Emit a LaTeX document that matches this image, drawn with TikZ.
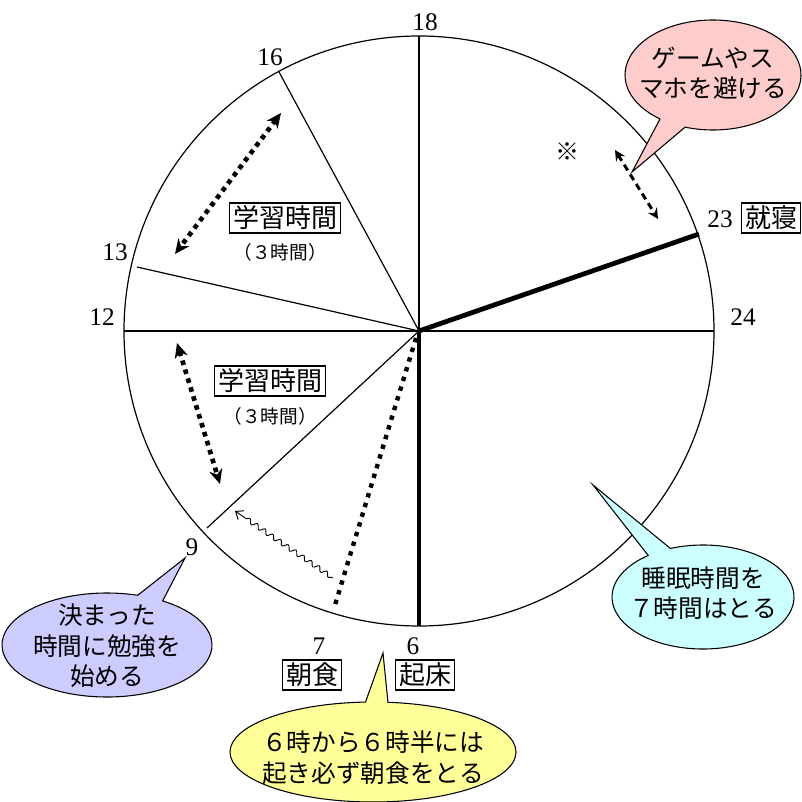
\documentclass[tikz,border=0pt]{standalone}
\usepackage{fontspec}
\setmainfont{Liberation Serif}
\newfontfamily\jp{Noto Sans CJK JP}
\usetikzlibrary{arrows.meta,decorations.pathmorphing,calc}
\definecolor{pinkc}{HTML}{FFCCCC}
\definecolor{lavc}{HTML}{CCCCFF}
\definecolor{cyanc}{HTML}{CCFFFF}
\definecolor{yelc}{HTML}{FFFF99}
\begin{document}
\begin{tikzpicture}[x=0.75pt,y=-0.75pt,
  num/.style={font=\fontsize{19}{19}\selectfont, inner sep=0pt},
  lbl/.style={draw, line width=0.9pt, font=\jp\fontsize{19.5}{20}\selectfont, inner xsep=2.5pt, inner ysep=2.2pt},
  sub/.style={font=\jp\fontsize{14}{15}\selectfont, inner sep=0pt},
  callout/.style={draw, line width=0.8pt},
  say/.style={font=\jp\fontsize{18.5}{23}\selectfont, align=center, inner sep=0pt},
  thin/.style={line width=0.9pt},
  thick5/.style={line width=3.6pt},
  dotarrow/.style={line width=3.5pt, dash pattern=on 3.5pt off 3.5pt, {Stealth[length=11pt,width=10pt]}-{Stealth[length=11pt,width=10pt]}},
  dasharrow/.style={line width=2.2pt, dash pattern=on 5pt off 3.5pt, {Stealth[length=8pt,width=8pt,inset=3pt]}-{Stealth[length=8pt,width=8pt,inset=3pt]}}
]
\useasboundingbox (0,0) rectangle (801,802);

% clock
\coordinate (C) at (419,331);
\draw[thin] (C) circle (295);
\coordinate (h18) at (419,36);
\coordinate (h24) at (714,331);
\coordinate (h12) at (124,331);
\coordinate (h16) at (279,72);
\coordinate (h13) at (137,267);
\coordinate (h9) at (207,528);
\coordinate (h23) at (699,234);
\coordinate (h6) at (419,626);
\coordinate (d0) at (416,338);
\coordinate (h7) at (335,605);

\draw[thin] (C) -- (h18);
\draw[thin] (h12) -- (h24);
\draw[thin] (C) -- (h16);
\draw[thin] (C) -- (h13);
\draw[thin] (C) -- (h9);
\draw[thick5] (C) -- (h23);
\draw[thick5] (C) -- (h6);
\draw[line width=3.3pt, dash pattern=on 3.3pt off 4.3pt] (d0) -- (h7);

% hour labels
\node[num] (n18) at (425,22) {18};
\node[num] (n16) at (270,57) {16};
\node[num] (n13) at (115,252) {13};
\node[num] (n12) at (102,317) {12};
\node[num] (n24) at (743,317) {24};
\node[num] (n23) at (720,219) {23};
\node[num] (n9) at (192,547) {9};
\node[num] (n7) at (319,646) {7};
\node[num] (n6) at (413,646) {6};

\node[lbl] (shushin) at (771,218) {就寝};
\node[lbl] (chou) at (312,675) {朝食};
\node[lbl] (kisho) at (425,675) {起床};

\node[lbl] (study1) at (285,218) {学習時間};
\node[sub] (sub1) at (280,252) {（３時間）};
\node[lbl] (study2) at (270,381) {学習時間};
\node[sub] (sub2) at (270,416) {（３時間）};

\node[font=\jp\fontsize{18}{18}\selectfont, inner sep=0pt] (kome) at (567,152) {※};

% arrows
\coordinate (a1s) at (281,113);
\coordinate (a1e) at (175,254);
\draw[dotarrow] (a1s) -- (a1e);
\coordinate (a2s) at (177,343);
\coordinate (a2e) at (220,484);
\draw[dotarrow] (a2s) -- (a2e);
\coordinate (a3s) at (615,150);
\coordinate (a3e) at (658,219);
\draw[dasharrow] (a3s) -- (a3e);
\coordinate (ws) at (333,578);
\coordinate (we) at (235,511);
\draw[line width=0.7pt, -{Straight Barb[length=5pt,width=8pt]}, decorate, decoration={snake, amplitude=1.7pt, segment length=7pt, post length=7pt, pre length=1pt}] (ws) -- (we);

% callouts
\coordinate (pc) at (713,75);
\coordinate (ptip) at (632,172);
\path[callout, fill=pinkc] ($(pc)+(127:88 and 55)$) -- (ptip) -- ($(pc)+(108.5:88 and 55)$) arc[start angle=108.5, end angle=-233, x radius=88, y radius=55] -- cycle;
\node[say] (pinktext) at (713,73) {ゲームやス\\マホを避ける};

\coordinate (lc) at (107,645);
\coordinate (ltip) at (185,558);
\path[callout, fill=lavc] ($(lc)+(-73:105 and 52)$) -- (ltip) -- ($(lc)+(-58:105 and 52)$) arc[start angle=-58, end angle=287, x radius=105, y radius=52] -- cycle;
\node[say] (lavtext) at (107,646) {決まった\\時間に勉強を\\始める};

\coordinate (cc) at (703,597);
\coordinate (ctip) at (593,485);
\path[callout, fill=cyanc] ($(cc)+(-127:91 and 52)$) -- (ctip) -- ($(cc)+(-111:91 and 52)$) arc[start angle=-111, end angle=233, x radius=91, y radius=52] -- cycle;
\node[say] (cyantext) at (703,593) {睡眠時間を\\７時間はとる};

\coordinate (yc) at (373,752);
\coordinate (ytip) at (383,653);
\path[callout, fill=yelc] ($(yc)+(-93:143 and 50)$) -- (ytip) -- ($(yc)+(-84:143 and 50)$) arc[start angle=-84, end angle=267, x radius=143, y radius=50] -- cycle;
\node[say] (yeltext) at (373,758) {６時から６時半には\\起き必ず朝食をとる};
\end{tikzpicture}
\end{document}
